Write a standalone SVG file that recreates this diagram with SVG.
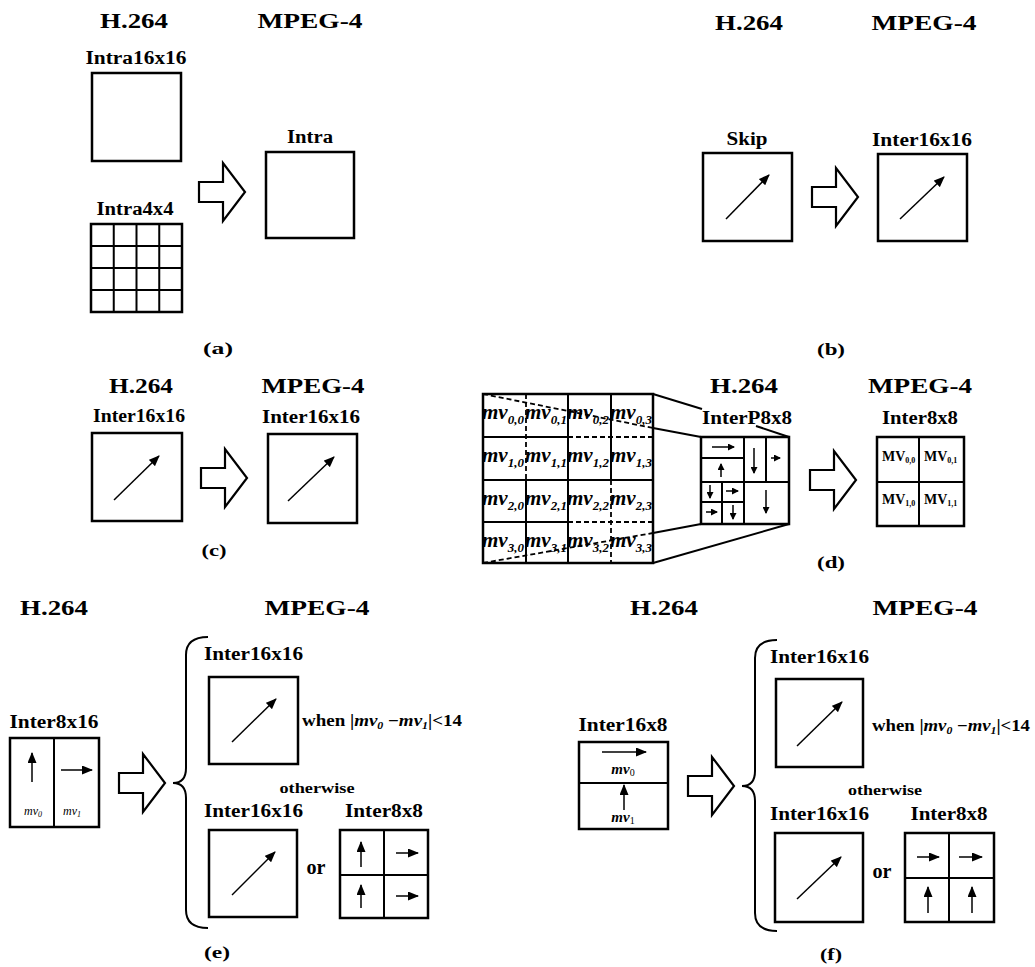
<svg xmlns="http://www.w3.org/2000/svg" width="1035" height="967" viewBox="0 0 1035 967">
<style>
text{font-family:"Liberation Serif","Times New Roman",serif;fill:#000}
.t{font-size:21px;font-weight:bold;text-anchor:middle}
.l{font-size:18px;font-weight:bold;text-anchor:middle}
.ls{font-size:18px;font-weight:bold}
.cap{font-size:17px;font-weight:bold;text-anchor:middle}
.w{font-size:16px;font-weight:bold}
.o{font-size:15px;font-weight:bold;text-anchor:middle}
.mv{font-size:21px;font-style:italic;font-weight:bold}
.MV{font-size:14px;font-weight:bold}
.box{fill:none;stroke:#000;stroke-width:2.5}
.g{fill:none;stroke:#000;stroke-width:2}
.d{fill:none;stroke:#000;stroke-width:1.8;stroke-dasharray:5,3}
.a{stroke:#000;stroke-width:1.5;fill:none;marker-end:url(#ah)}
.as{stroke:#000;stroke-width:1.5;fill:none;marker-end:url(#sh)}
.big{fill:#fff;stroke:#000;stroke-width:2.2;stroke-linejoin:miter}
.br{fill:none;stroke:#000;stroke-width:2}
</style>
<defs>
<marker id="ah" markerUnits="userSpaceOnUse" markerWidth="11" markerHeight="9" refX="10" refY="4.5" orient="auto"><path d="M0,0 L11,4.5 L0,9 z" fill="#000"/></marker>
<marker id="sh" markerUnits="userSpaceOnUse" markerWidth="7" markerHeight="7" refX="6" refY="3.5" orient="auto"><path d="M0,0 L7,3.5 L0,7 z" fill="#000"/></marker>
<path id="bigarrow" d="M0,-10 L24,-10 L24,-29 L46,0 L24,29 L24,10 L0,10 z"/>
</defs>
<rect width="1035" height="967" fill="#fff"/>

<g id="connectors">
<use href="#bigarrow" class="big" x="199" y="192"/>
<use href="#bigarrow" class="big" x="812" y="197"/>
<use href="#bigarrow" class="big" x="201" y="478"/>
<use href="#bigarrow" class="big" x="810" y="480"/>
<use href="#bigarrow" class="big" x="119" y="783"/>
<use href="#bigarrow" class="big" x="688" y="786"/>
<path class="br" d="M208,637 Q186,637 186,655 L186,768 Q186,783 173,783 Q186,783 186,798 L186,910 Q186,928 208,928"/>
<path class="br" d="M777,640 Q755,640 755,658 L755,771 Q755,786 742,786 Q755,786 755,801 L755,913 Q755,931 777,931"/>
<line class="d" x1="483" y1="394" x2="653" y2="428"/>
<line class="g" x1="653" y1="428" x2="701" y2="437"/>
<line class="g" x1="653" y1="394" x2="702" y2="409"/>
<line class="g" x1="756" y1="426" x2="789" y2="437"/>
<line class="d" x1="483" y1="563" x2="653" y2="533"/>
<line class="g" x1="653" y1="533" x2="701" y2="524"/>
<line class="g" x1="653" y1="563" x2="789" y2="524"/>
</g>

<g id="panel-a">
<text class="t" x="134" y="28" textLength="68" lengthAdjust="spacingAndGlyphs">H.264</text>
<text class="t" x="310" y="28" textLength="105" lengthAdjust="spacingAndGlyphs">MPEG-4</text>
<text class="cap" x="218" y="354" textLength="30" lengthAdjust="spacingAndGlyphs">(a)</text>
</g>
<g id="a-intra16">
<text class="l" x="136" y="64" textLength="101" lengthAdjust="spacingAndGlyphs">Intra16x16</text>
<rect class="box" x="92" y="73" width="89" height="88"/>
</g>
<g id="a-intra4">
<text class="l" x="135" y="215" textLength="77" lengthAdjust="spacingAndGlyphs">Intra4x4</text>
<rect class="box" x="91" y="224" width="91" height="88"/>
<path class="g" d="M113.75,224V312M136.5,224V312M159.25,224V312M91,246H182M91,268H182M91,290H182"/>
</g>
<g id="a-intra">
<text class="l" x="310" y="143" textLength="46" lengthAdjust="spacingAndGlyphs">Intra</text>
<rect class="box" x="266" y="152" width="88" height="86"/>
</g>

<g id="panel-b">
<text class="t" x="749" y="30" textLength="68" lengthAdjust="spacingAndGlyphs">H.264</text>
<text class="t" x="924" y="30" textLength="105" lengthAdjust="spacingAndGlyphs">MPEG-4</text>
<text class="cap" x="831" y="355" textLength="28" lengthAdjust="spacingAndGlyphs">(b)</text>
</g>
<g id="b-skip">
<text class="l" x="747" y="145" textLength="41" lengthAdjust="spacingAndGlyphs">Skip</text>
<rect class="box" x="703" y="153" width="89" height="88"/>
<line class="a" x1="726" y1="219" x2="769" y2="175"/>
</g>
<g id="b-inter16">
<text class="l" x="922" y="146" textLength="100" lengthAdjust="spacingAndGlyphs">Inter16x16</text>
<rect class="box" x="878" y="154" width="89" height="87"/>
<line class="a" x1="900" y1="219" x2="944" y2="177"/>
</g>

<g id="panel-c">
<text class="t" x="141" y="393" textLength="64" lengthAdjust="spacingAndGlyphs">H.264</text>
<text class="t" x="313" y="393" textLength="103" lengthAdjust="spacingAndGlyphs">MPEG-4</text>
<text class="cap" x="214" y="556" textLength="25" lengthAdjust="spacingAndGlyphs">(c)</text>
</g>
<g id="c-h264">
<text class="l" x="139" y="422" textLength="92" lengthAdjust="spacingAndGlyphs">Inter16x16</text>
<rect class="box" x="92" y="433" width="90" height="88"/>
<line class="a" x1="114" y1="500" x2="159" y2="456"/>
</g>
<g id="c-mpeg4">
<text class="l" x="311" y="423" textLength="98" lengthAdjust="spacingAndGlyphs">Inter16x16</text>
<rect class="box" x="268" y="434" width="89" height="89"/>
<line class="a" x1="288" y1="501" x2="334" y2="457"/>
</g>

<g id="panel-d">
<text class="t" x="744" y="393" textLength="68" lengthAdjust="spacingAndGlyphs">H.264</text>
<text class="t" x="920" y="393" textLength="104" lengthAdjust="spacingAndGlyphs">MPEG-4</text>
<text class="cap" x="831" y="568" textLength="28" lengthAdjust="spacingAndGlyphs">(d)</text>
</g>
<g id="d-grid">
<rect class="box" x="483" y="394" width="170" height="169"/>
<path class="g" d="M526,480V563M568,394V563M611,394V480M483,437H568M483,480H653M483,522H568"/>
<path class="d" d="M526,394V480M611,480V563M568,437H653M568,522H653"/>
<g class="mv">
<text x="482" y="419">mv<tspan font-size="13" dy="5">0,0</tspan></text>
<text x="525" y="419">mv<tspan font-size="13" dy="5">0,1</tspan></text>
<text x="567" y="419">mv<tspan font-size="13" dy="5">0,2</tspan></text>
<text x="610" y="419">mv<tspan font-size="13" dy="5">0,3</tspan></text>
<text x="482" y="462">mv<tspan font-size="13" dy="5">1,0</tspan></text>
<text x="525" y="462">mv<tspan font-size="13" dy="5">1,1</tspan></text>
<text x="567" y="462">mv<tspan font-size="13" dy="5">1,2</tspan></text>
<text x="610" y="462">mv<tspan font-size="13" dy="5">1,3</tspan></text>
<text x="482" y="505">mv<tspan font-size="13" dy="5">2,0</tspan></text>
<text x="525" y="505">mv<tspan font-size="13" dy="5">2,1</tspan></text>
<text x="567" y="505">mv<tspan font-size="13" dy="5">2,2</tspan></text>
<text x="610" y="505">mv<tspan font-size="13" dy="5">2,3</tspan></text>
<text x="482" y="547">mv<tspan font-size="13" dy="5">3,0</tspan></text>
<text x="525" y="547">mv<tspan font-size="13" dy="5">3,1</tspan></text>
<text x="567" y="547">mv<tspan font-size="13" dy="5">3,2</tspan></text>
<text x="610" y="547">mv<tspan font-size="13" dy="5">3,3</tspan></text>
</g>
</g>
<g id="d-interp8x8">
<text class="l" x="747" y="424" textLength="90" lengthAdjust="spacingAndGlyphs">InterP8x8</text>
<rect class="box" x="701" y="437" width="88" height="87"/>
<path class="g" d="M744,437V524M701,482H789M701,458H744M766,437V482M722,482V524M701,502H744"/>
<line class="as" x1="712" y1="447" x2="734" y2="447"/>
<line class="as" x1="721" y1="477" x2="721" y2="464"/>
<line class="as" x1="754" y1="448" x2="754" y2="473"/>
<line class="as" x1="771" y1="458" x2="780" y2="458"/>
<line class="as" x1="710" y1="485" x2="710" y2="498"/>
<line class="as" x1="726" y1="491" x2="738" y2="491"/>
<line class="as" x1="706" y1="512" x2="717" y2="512"/>
<line class="as" x1="733" y1="505" x2="733" y2="519"/>
<line class="as" x1="766" y1="490" x2="766" y2="513"/>
</g>
<g id="d-inter8x8">
<text class="l" x="920" y="424" textLength="76" lengthAdjust="spacingAndGlyphs">Inter8x8</text>
<rect class="box" x="877" y="437" width="87" height="89"/>
<path class="g" d="M919,437V526M877,482H964"/>
<text class="MV" x="882" y="461">MV<tspan font-size="8" dy="2">0,0</tspan></text>
<text class="MV" x="924" y="461">MV<tspan font-size="8" dy="2">0,1</tspan></text>
<text class="MV" x="882" y="504">MV<tspan font-size="8" dy="2">1,0</tspan></text>
<text class="MV" x="924" y="504">MV<tspan font-size="8" dy="2">1,1</tspan></text>
</g>

<g id="panel-e">
<text class="t" x="54" y="615" textLength="68" lengthAdjust="spacingAndGlyphs">H.264</text>
<text class="t" x="317" y="615" textLength="105" lengthAdjust="spacingAndGlyphs">MPEG-4</text>
<text class="o" x="317" y="793" textLength="75" lengthAdjust="spacingAndGlyphs">otherwise</text>
<text class="t" x="316" y="874" font-size="20" textLength="19" lengthAdjust="spacingAndGlyphs">or</text>
<text class="w" x="302" y="726" textLength="160" lengthAdjust="spacingAndGlyphs">when |<tspan font-style="italic">mv</tspan><tspan font-style="italic" font-size="10" dy="3">0</tspan><tspan dy="-3"> −</tspan><tspan font-style="italic">mv</tspan><tspan font-style="italic" font-size="10" dy="3">1</tspan><tspan dy="-3">|&lt;14</tspan></text>
<text class="cap" x="217" y="958" textLength="26" lengthAdjust="spacingAndGlyphs">(e)</text>
</g>
<g id="e-inter8x16">
<text class="l" x="54" y="728" textLength="89" lengthAdjust="spacingAndGlyphs">Inter8x16</text>
<rect class="box" x="10" y="738" width="89" height="89"/>
<path class="g" d="M54,738V827"/>
<line class="a" x1="32" y1="782" x2="32" y2="753"/>
<line class="a" x1="61" y1="770" x2="92" y2="770"/>
<text x="33" y="815" font-size="12" font-style="italic" text-anchor="middle">mv<tspan font-size="8" dy="2">0</tspan></text>
<text x="72" y="815" font-size="12" font-style="italic" text-anchor="middle">mv<tspan font-size="8" dy="2">1</tspan></text>
</g>
<g id="e-inter16-top">
<text class="ls" x="204" y="660" textLength="99" lengthAdjust="spacingAndGlyphs">Inter16x16</text>
<rect class="box" x="209" y="677" width="89" height="87"/>
<line class="a" x1="232" y1="742" x2="276" y2="699"/>
</g>
<g id="e-inter16-bottom">
<text class="ls" x="204" y="817" textLength="99" lengthAdjust="spacingAndGlyphs">Inter16x16</text>
<rect class="box" x="209" y="830" width="88" height="87"/>
<line class="a" x1="232" y1="895" x2="275" y2="852"/>
</g>
<g id="e-inter8x8">
<text class="l" x="384" y="817" textLength="78" lengthAdjust="spacingAndGlyphs">Inter8x8</text>
<rect class="box" x="340" y="830" width="88" height="88"/>
<path class="g" d="M384,830V918M340,875H428"/>
<line class="a" x1="361" y1="867" x2="361" y2="842"/>
<line class="a" x1="396" y1="853" x2="418" y2="853"/>
<line class="a" x1="361" y1="908" x2="361" y2="885"/>
<line class="a" x1="396" y1="896" x2="418" y2="896"/>
</g>

<g id="panel-f">
<text class="t" x="664" y="615" textLength="68" lengthAdjust="spacingAndGlyphs">H.264</text>
<text class="t" x="925" y="615" textLength="105" lengthAdjust="spacingAndGlyphs">MPEG-4</text>
<text class="o" x="885" y="795" textLength="74" lengthAdjust="spacingAndGlyphs">otherwise</text>
<text class="t" x="882" y="878" font-size="20" textLength="19" lengthAdjust="spacingAndGlyphs">or</text>
<text class="w" x="872" y="731" textLength="158" lengthAdjust="spacingAndGlyphs">when |<tspan font-style="italic">mv</tspan><tspan font-style="italic" font-size="10" dy="3">0</tspan><tspan dy="-3"> −</tspan><tspan font-style="italic">mv</tspan><tspan font-style="italic" font-size="10" dy="3">1</tspan><tspan dy="-3">|&lt;14</tspan></text>
<text class="cap" x="831" y="960" textLength="22" lengthAdjust="spacingAndGlyphs">(f)</text>
</g>
<g id="f-inter16x8">
<text class="l" x="623" y="731" textLength="89" lengthAdjust="spacingAndGlyphs">Inter16x8</text>
<rect class="box" x="579" y="742" width="89" height="87"/>
<path class="g" d="M579,783H668"/>
<line class="a" x1="602" y1="752" x2="646" y2="752"/>
<line class="a" x1="624" y1="810" x2="624" y2="785"/>
<text x="623" y="774" font-size="15" font-style="italic" font-weight="bold" text-anchor="middle">mv<tspan font-size="10" font-style="normal" font-weight="normal" dy="2">0</tspan></text>
<text x="623" y="822" font-size="15" font-style="italic" font-weight="bold" text-anchor="middle">mv<tspan font-size="10" font-style="normal" font-weight="normal" dy="2">1</tspan></text>
</g>
<g id="f-inter16-top">
<text class="ls" x="770" y="663" textLength="99" lengthAdjust="spacingAndGlyphs">Inter16x16</text>
<rect class="box" x="776" y="679" width="87" height="88"/>
<line class="a" x1="797" y1="746" x2="842" y2="702"/>
</g>
<g id="f-inter16-bottom">
<text class="ls" x="770" y="820" textLength="99" lengthAdjust="spacingAndGlyphs">Inter16x16</text>
<rect class="box" x="775" y="833" width="88" height="89"/>
<line class="a" x1="797" y1="899" x2="841" y2="857"/>
</g>
<g id="f-inter8x8">
<text class="l" x="949" y="820" textLength="77" lengthAdjust="spacingAndGlyphs">Inter8x8</text>
<rect class="box" x="905" y="833" width="89" height="89"/>
<path class="g" d="M949,833V922M905,878H994"/>
<line class="a" x1="917" y1="857" x2="939" y2="857"/>
<line class="a" x1="959" y1="857" x2="982" y2="857"/>
<line class="a" x1="928" y1="913" x2="928" y2="887"/>
<line class="a" x1="972" y1="913" x2="972" y2="887"/>
</g>
</svg>
